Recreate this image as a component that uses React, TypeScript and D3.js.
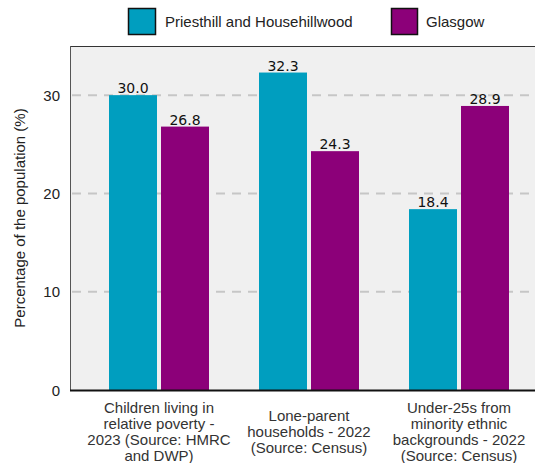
import React from "react";
import * as d3 from "d3";

const categories = [
  ["Children living in", "relative poverty -", "2023 (Source: HMRC", "and DWP)"],
  ["Lone-parent", "households - 2022", "(Source: Census)"],
  ["Under-25s from", "minority ethnic", "backgrounds - 2022", "(Source: Census)"],
];
const seriesNames = ["Priesthill and Househillwood", "Glasgow"];
const priesthill = [30.0, 32.3, 18.4];
const glasgow = [26.8, 24.3, 28.9];
const yTicks = [0, 10, 20, 30];
const colors = ["#009ebf", "#8c0079"];

const W = 535;
const H = 463;
const left = 70;
const top = 46;
const bottom = 390;

export default function App() {
  const keys = categories.map((_, i) => String(i));
  const x0 = d3.scaleBand<string>().domain(keys).range([84, 534]).paddingInner(1 / 3).paddingOuter(1 / 6);
  const x1 = d3.scaleBand<string>().domain(seriesNames).range([0, x0.bandwidth()]).paddingInner(4 / 52).paddingOuter(0);
  const y = d3.scaleLinear().domain([0, 35]).range([bottom, top]);
  const values = [priesthill, glasgow];
  const font = "'Liberation Sans', Arial, Helvetica, sans-serif";

  return (
    <svg width={W} height={H} style={{ position: "absolute", left: 0, top: 0 }}>
      <rect x={0} y={0} width={W} height={H} fill="#ffffff" />
      {/* legend */}
      <g fontFamily={font} fontSize={15} fill="#222">
        <rect x={128.5} y={8.5} width={27} height={26} fill={colors[0]} stroke="#111" strokeWidth={1.5} />
        <text x={165} y={27}>{seriesNames[0]}</text>
        <rect x={391.5} y={8.5} width={26} height={26} fill={colors[1]} stroke="#111" strokeWidth={1.5} />
        <text x={426} y={27}>{seriesNames[1]}</text>
      </g>
      {/* plot area */}
      <rect x={left} y={top} width={W - left + 5} height={bottom - top} fill="#f0f0f0" />
      <line x1={left} x2={W} y1={top + 0.5} y2={top + 0.5} stroke="#333" strokeWidth={1} />
      <line x1={left + 0.5} x2={left + 0.5} y1={top} y2={bottom} stroke="#555" strokeWidth={1} />
      {yTicks.filter((t) => t > 0).map((t) => (
        <line key={t} x1={left + 2} x2={W} y1={y(t)} y2={y(t)} stroke="#c6c6c6" strokeWidth={2} strokeDasharray="9,7" />
      ))}
      {yTicks.map((t) => (
        <text key={t} x={60} y={y(t) + 5.5} textAnchor="end" fontFamily={font} fontSize={15} fill="#222">
          {t}
        </text>
      ))}
      {/* bars */}
      {keys.map((k, i) => (
        <g key={k} transform={`translate(${x0(k)},0)`}>
          {seriesNames.map((s, j) => {
            const v = values[j][i];
            const bx = x1(s)!;
            return (
              <g key={s}>
                <rect x={bx} y={y(v)} width={x1.bandwidth()} height={bottom - y(v)} fill={colors[j]} />
                <text
                  x={bx + x1.bandwidth() / 2}
                  y={y(v) - 2}
                  textAnchor="middle"
                  fontFamily="'DejaVu Sans', sans-serif"
                  fontSize={14}
                  fill="#111"
                >
                  {v.toFixed(1)}
                </text>
              </g>
            );
          })}
        </g>
      ))}
      <line x1={left} x2={W} y1={bottom + 0.5} y2={bottom + 0.5} stroke="#111" strokeWidth={2} />
      {/* x labels */}
      {categories.map((lines, i) => {
        const cx = x0(String(i))! + x0.bandwidth() / 2;
        const lh = 16;
        const startY = 431 - ((lines.length - 1) * lh) / 2 + 5.5;
        return (
          <text key={i} textAnchor="middle" fontFamily={font} fontSize={15} fill="#333">
            {lines.map((l, li) => (
              <tspan key={li} x={cx} y={startY + li * lh}>
                {l}
              </tspan>
            ))}
          </text>
        );
      })}
      {/* y axis title */}
      <text
        transform={`translate(25,${(top + bottom) / 2}) rotate(-90)`}
        textAnchor="middle"
        fontFamily={font}
        fontSize={15}
        fill="#222"
      >
        Percentage of the population (%)
      </text>
    </svg>
  );
}
